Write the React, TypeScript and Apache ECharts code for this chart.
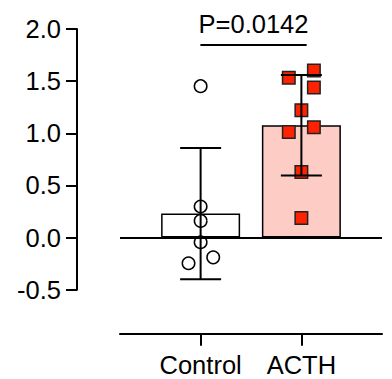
import React, { useEffect, useRef } from "react";
import * as echarts from "echarts";

const categories = ["Control", "ACTH"];
const groupX = [1, 2];
const means = [0.23, 1.077];
const sds = [0.63, 0.483];
const barColors = ["#ffffff", "#fdccc5"];

const controlPoints: [number, number][] = [
  [1.0, 1.452],
  [1.0, 0.298],
  [1.0, 0.16],
  [1.0, -0.045],
  [0.88, -0.246],
  [1.125, -0.19],
];
const acthPoints: [number, number][] = [
  [1.875, 1.533],
  [2.124, 1.603],
  [2.124, 1.44],
  [2.0, 1.221],
  [1.875, 1.013],
  [2.124, 1.058],
  [2.0, 0.629],
  [2.0, 0.187],
];
const pLabel = "P=0.0142";
const bracket = { x1: 1.0, x2: 2.05, y: 1.846 };
const yTicks = { min: -0.5, max: 2.0, interval: 0.5 };

const FONT = "'Liberation Sans', Arial, Helvetica, sans-serif";
const FS = 25.5;

export default function App() {
  const ref = useRef<HTMLDivElement>(null);
  useEffect(() => {
    document.body.style.margin = "0";
    const chart = echarts.init(ref.current!, undefined, { renderer: "svg" });
    chart.setOption({
      animation: false,
      textStyle: { fontFamily: FONT },
      grid: { left: 120, right: 10, top: 29, bottom: 89.3 },
      xAxis: {
        type: "value",
        min: 0.2,
        max: 2.8,
        offset: 44,
        position: "bottom",
        splitLine: { show: false },
        axisLine: { show: true, onZero: false, lineStyle: { color: "#000", width: 2 } },
        axisTick: { show: true, customValues: groupX, length: 12, lineStyle: { color: "#000", width: 2 } },
        axisLabel: {
          show: true,
          customValues: groupX,
          formatter: (v: number) => categories[Math.round(v) - 1] ?? "",
          color: "#000",
          fontSize: FS,
          fontFamily: FONT,
          margin: 18,
        },
      },
      yAxis: {
        type: "value",
        min: yTicks.min,
        max: yTicks.max,
        interval: yTicks.interval,
        offset: 43,
        splitLine: { show: false },
        axisLine: { show: true, onZero: false, lineStyle: { color: "#000", width: 2 } },
        axisTick: { show: true, length: 11, lineStyle: { color: "#000", width: 2 } },
        axisLabel: {
          color: "#000",
          fontSize: FS,
          fontFamily: FONT,
          margin: 16,
          formatter: (v: number) => v.toFixed(1),
        },
      },
      series: [
        {
          type: "bar",
          barWidth: 79,
          z: 2,
          data: groupX.map((x, i) => ({
            value: [x, means[i]],
            itemStyle: { color: barColors[i], borderColor: "#000", borderWidth: 1.5 },
          })),
          markLine: {
            silent: true,
            symbol: "none",
            label: { show: false },
            lineStyle: { color: "#000", width: 2, type: "solid" },
            data: [{ yAxis: 0 }],
          },
        },
        {
          type: "scatter",
          z: 3,
          symbol: "circle",
          symbolSize: 12.5,
          itemStyle: { color: "#ffffff", borderColor: "#000", borderWidth: 1.5, opacity: 1 },
          data: controlPoints,
        },
        {
          type: "scatter",
          z: 3,
          symbol: "rect",
          symbolSize: 12.5,
          itemStyle: { color: "#ff2200", borderColor: "#222", borderWidth: 1.5, opacity: 1 },
          data: acthPoints,
        },
        {
          type: "custom",
          z: 4,
          renderItem: (params: any, api: any) => {
            const x = api.value(0);
            const m = api.value(1);
            const sd = api.value(2);
            const top = api.coord([x, m + sd]);
            const bot = api.coord([x, m - sd]);
            const hw = 20.5;
            const st = { stroke: "#000", lineWidth: 2 };
            return {
              type: "group",
              children: [
                { type: "line", shape: { x1: top[0], y1: top[1], x2: bot[0], y2: bot[1] }, style: st },
                { type: "line", shape: { x1: top[0] - hw, y1: top[1], x2: top[0] + hw, y2: top[1] }, style: st },
                { type: "line", shape: { x1: bot[0] - hw, y1: bot[1], x2: bot[0] + hw, y2: bot[1] }, style: st },
              ],
            };
          },
          data: groupX.map((x, i) => [x, means[i], sds[i]]),
        },
        {
          type: "line",
          z: 4,
          symbol: "none",
          lineStyle: { color: "#000", width: 2 },
          data: [
            [bracket.x1, bracket.y],
            [bracket.x2, bracket.y],
          ],
          markLine: {
            silent: true,
            symbol: "none",
            lineStyle: { color: "#000", width: 2, type: "solid" },
            label: {
              show: true,
              position: "middle",
              formatter: pLabel,
              color: "#000",
              fontSize: FS,
              fontFamily: FONT,
              distance: 8,
            },
            data: [[{ coord: [bracket.x1, bracket.y] }, { coord: [bracket.x2, bracket.y] }]],
          },
        },
      ],
    });
    return () => chart.dispose();
  }, []);
  return <div ref={ref} style={{ width: 392, height: 379 }} />;
}
